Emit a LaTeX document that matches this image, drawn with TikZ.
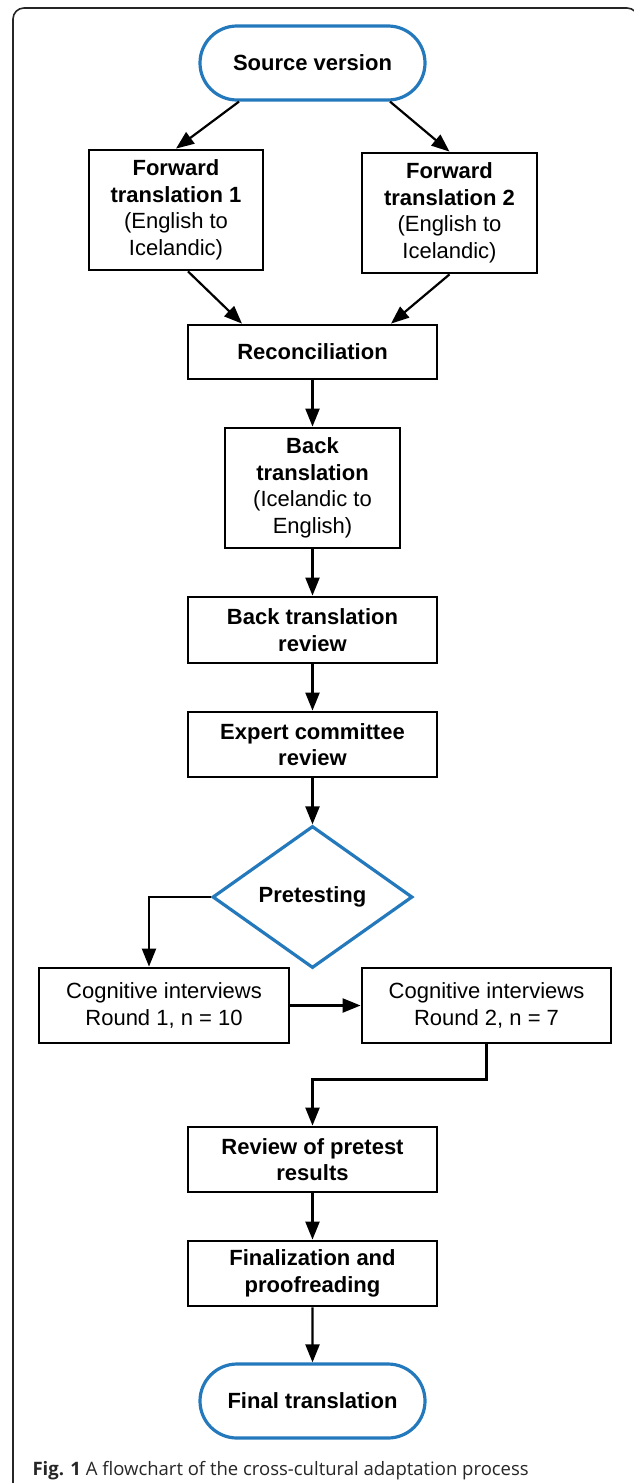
\documentclass[tikz,border=0pt]{standalone}
\usepackage{fontspec}
\setmainfont{Liberation Sans}
\newfontfamily\capfont{Open Sans}
\usetikzlibrary{arrows.meta, calc, shapes.geometric, shapes.misc}
\definecolor{termblue}{RGB}{35,121,187}
\tikzset{
  stepbox/.style={draw, line width=2.8pt, rectangle, align=center, inner sep=0pt},
  term/.style={draw=termblue, line width=3.2pt, rounded rectangle, minimum width=225pt, minimum height=74pt, inner sep=0pt, font=\fontsize{22}{26.5}\selectfont\bfseries},
  decide/.style={draw=termblue, line width=3.2pt, diamond, minimum width=200pt, minimum height=142pt, inner sep=0pt, font=\fontsize{22}{26.5}\selectfont\bfseries},
  arr/.style={line width=2.2pt, -{Triangle[length=18pt,width=14pt]}},
}
\begin{document}
\begin{tikzpicture}[x=1pt, y=-1pt, font=\fontsize{22}{26.5}\selectfont]
\useasboundingbox (0,0) rectangle (634,1483);
\draw[black!85, line width=1.6pt, rounded corners=11pt] (13,1490) -- (13,8) -- (638,8) -- (638,40);

\node[term] (src) at (312.5,63) {Source version};
\node[stepbox, minimum width=174pt, minimum height=120pt] (ft1) at (176,210)
  {\textbf{Forward}\\\textbf{translation 1}\\(English to\\Icelandic)};
\node[stepbox, minimum width=175pt, minimum height=120pt] (ft2) at (449.5,213)
  {\textbf{Forward}\\\textbf{translation 2}\\(English to\\Icelandic)};
\node[stepbox, minimum width=249pt, minimum height=54pt] (recon) at (312.5,352) {\textbf{Reconciliation}};
\node[stepbox, minimum width=175pt, minimum height=120pt] (back) at (312.5,488)
  {\textbf{Back}\\\textbf{translation}\\(Icelandic to\\English)};
\node[stepbox, minimum width=249pt, minimum height=66pt] (btrev) at (312.5,630)
  {\textbf{Back translation}\\\textbf{review}};
\node[stepbox, minimum width=249pt, minimum height=65pt] (expert) at (312.5,744.5)
  {\textbf{Expert committee}\\\textbf{review}};
\node[decide] (pretest) at (312.5,897) {Pretesting};
\node[stepbox, minimum width=250pt, minimum height=75pt] (cog1) at (164,1005.5)
  {Cognitive interviews\\Round 1, n = 10};
\node[stepbox, minimum width=249pt, minimum height=75pt] (cog2) at (486.5,1005.5)
  {Cognitive interviews\\Round 2, n = 7};
\node[stepbox, minimum width=249pt, minimum height=65pt] (review) at (312.5,1159.5)
  {\textbf{Review of pretest}\\\textbf{results}};
\node[stepbox, minimum width=249pt, minimum height=65pt] (finproof) at (312.5,1273.5)
  {\textbf{Finalization and}\\\textbf{proofreading}};
\node[term] (final) at (312.5,1401) {Final translation};
\node[anchor=base west, text=black!85, font=\capfont\fontsize{18.5}{22}\selectfont] (caption) at (29,1475)
  {\textbf{Fig. 1} A flowchart of the cross-cultural adaptation process};

\draw[arr] ($(src.south)+(-73.5,0)$) -- (ft1.north);
\draw[arr] ($(src.south)+(77.5,0)$) -- (ft2.north);
\draw[arr] ($(ft1.south)+(12,0)$) -- ($(recon.north)+(-70.5,0)$);
\draw[arr] (ft2.south) -- ($(recon.north)+(78.5,0)$);
\draw[arr] (recon) -- (back);
\draw[arr] (back) -- (btrev);
\draw[arr] (btrev) -- (expert);
\draw[arr] (expert) -- (pretest);
\draw[arr] (pretest.west) -| ($(cog1.north)+(-15,0)$);
\draw[arr] (cog1) -- (cog2);
\draw[arr] (cog2.south) -- ++(0,35) -| (review.north);
\draw[arr] (review) -- (finproof);
\draw[arr] (finproof) -- (final);
\end{tikzpicture}
\end{document}
